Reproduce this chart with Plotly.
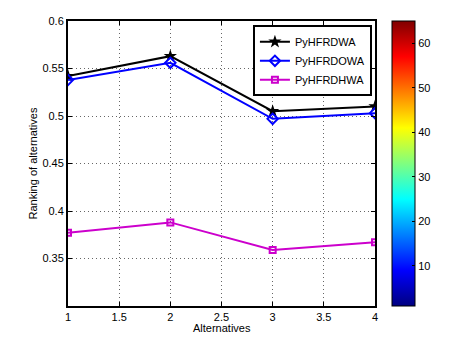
import plotly.graph_objects as go

# alternatives and ranking values per operator
alternatives = [1, 2, 3, 4]
pyhfrdwa = [0.542, 0.563, 0.505, 0.510]
pyhfrdowa = [0.538, 0.556, 0.497, 0.503]
pyhfrdhwa = [0.377, 0.388, 0.359, 0.367]

# MATLAB-style jet colormap for the colorbar
jet = [
    [0.0, "rgb(0,0,128)"],
    [0.125, "rgb(0,0,255)"],
    [0.375, "rgb(0,255,255)"],
    [0.625, "rgb(255,255,0)"],
    [0.875, "rgb(255,0,0)"],
    [1.0, "rgb(128,0,0)"],
]
cbar_min, cbar_max = 1, 65
cbar_ticks = [10, 20, 30, 40, 50, 60]

font = dict(family="Liberation Sans, Arial, sans-serif", size=11, color="black")

fig = go.Figure()
fig.add_trace(go.Scatter(
    x=alternatives, y=pyhfrdwa, name="PyHFRDWA", mode="lines+markers",
    line=dict(color="black", width=2),
    marker=dict(symbol="star", size=10, color="black"),
))
fig.add_trace(go.Scatter(
    x=alternatives, y=pyhfrdowa, name="PyHFRDOWA", mode="lines+markers",
    line=dict(color="blue", width=2),
    marker=dict(symbol="diamond-open", size=8, color="blue", line=dict(width=2)),
))
fig.add_trace(go.Scatter(
    x=alternatives, y=pyhfrdhwa, name="PyHFRDHWA", mode="lines+markers",
    line=dict(color="#cc00cc", width=2),
    marker=dict(symbol="square-open", size=6, color="#cc00cc", line=dict(width=2)),
))

# invisible trace only to carry the colorbar
fig.add_trace(go.Scatter(
    x=[None], y=[None], mode="markers", showlegend=False, hoverinfo="skip",
    marker=dict(
        color=[cbar_min], cmin=cbar_min, cmax=cbar_max, colorscale=jet,
        showscale=True,
        colorbar=dict(
            x=1.055, xanchor="left", y=0.5, yanchor="middle",
            len=1, lenmode="fraction", thickness=23, thicknessmode="pixels",
            xpad=0, ypad=0, outlinecolor="black", outlinewidth=1,
            tickvals=cbar_ticks, ticks="inside", ticklen=3, tickcolor="black",
            tickfont=font,
        ),
    ),
))

axis_common = dict(
    showline=True, linecolor="black", linewidth=2, mirror="ticks",
    ticks="inside", ticklen=4, tickcolor="black",
    showgrid=True, gridcolor="#666666", griddash="1px,3px", gridwidth=1,
    zeroline=False, tickfont=font, automargin=False,
)

# the page body adds an 8px offset, so the figure is 8px smaller
fig.update_layout(
    width=452, height=335,
    margin=dict(l=60, r=85, t=13, b=37),
    paper_bgcolor="white", plot_bgcolor="white",
    font=font,
    xaxis=dict(
        range=[1, 4], tickvals=[1, 1.5, 2, 2.5, 3, 3.5, 4],
        ticktext=["1", "1.5", "2", "2.5", "3", "3.5", "4"],
        **axis_common,
    ),
    yaxis=dict(
        range=[0.3, 0.6], tickvals=[0.35, 0.4, 0.45, 0.5, 0.55, 0.6],
        ticktext=["0.35", "0.4", "0.45", "0.5", "0.55", "0.6"],
        **axis_common,
    ),
    legend=dict(
        x=0.99, y=0.985, xanchor="right", yanchor="top",
        bgcolor="white", bordercolor="black", borderwidth=2,
        font=dict(family="Liberation Sans, Arial, sans-serif", size=11),
        tracegroupgap=0, itemwidth=30,
    ),
    annotations=[
        dict(text="Alternatives", x=0.5, y=0, xref="paper", yref="paper",
             xanchor="center", yanchor="middle", yshift=-22,
             showarrow=False, font=font),
        dict(text="Ranking of alternatives", x=0, y=0.5, xref="paper", yref="paper",
             xanchor="center", yanchor="middle", xshift=-36, textangle=-90,
             showarrow=False, font=font),
    ],
)

fig.write_html("out.html")
